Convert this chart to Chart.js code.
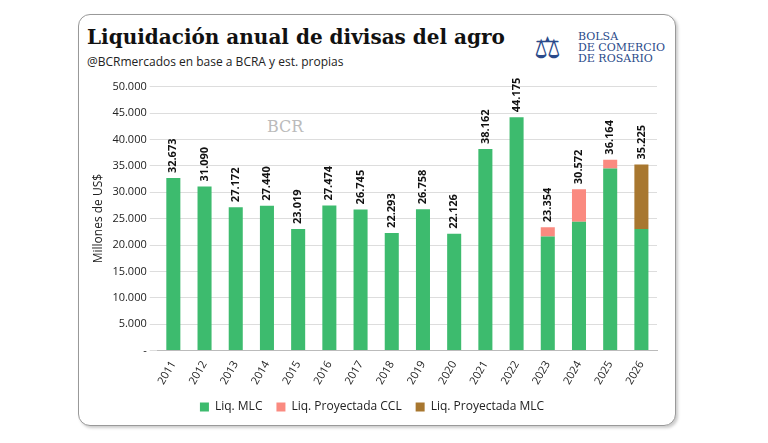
<!DOCTYPE html>
<html><head><meta charset="utf-8">
<script src="https://cdn.jsdelivr.net/npm/chart.js@4"></script>
<style>
body{margin:0;background:#fff;font-family:"Open Sans",sans-serif}
#card{position:absolute;left:78px;top:14px;width:596px;height:410px;border:1px solid #999;border-radius:12px;background:#fff;box-shadow:2px 2px 3px #ccc}
#title{position:absolute;left:8px;top:10px;font:bold 20px "DejaVu Serif",serif;color:#111}
#sub{position:absolute;left:8px;top:38px;font-size:12px;color:#222}
#logo{position:absolute;left:455px;top:14px;width:140px;white-space:nowrap;color:#2a4a8a}
#logo .ic{position:absolute;left:0;top:0;font-size:30px;line-height:36px}
#logo .tx{position:absolute;left:44px;top:2px;font:11px "DejaVu Serif",serif;line-height:11px}
#wm{position:absolute;left:188px;top:102px;font:16px "DejaVu Serif",serif;color:#bbb}
#wrap{position:absolute;left:8px;top:62px;width:584px;height:346px}
</style></head><body>
<div id="card">
<div id="title">Liquidación anual de divisas del agro</div>
<div id="sub">@BCRmercados en base a BCRA y est. propias</div>
<div id="logo"><div class="ic">⚖</div><div class="tx">BOLSA<br>DE COMERCIO<br>DE ROSARIO</div></div>
<div id="wm">BCR</div>
<div id="wrap"><canvas id="c"></canvas></div>
</div>
<script>
var years = ["2011","2012","2013","2014","2015","2016","2017","2018","2019","2020","2021","2022","2023","2024","2025","2026"];
var mlc = [32673,31090,27172,27440,23019,27474,26745,22293,26758,22126,38162,44175,21600,24400,34500,23050];
var projCCL = [0,0,0,0,0,0,0,0,0,0,0,0,1754,6172,1664,0];
var projMLC = [0,0,0,0,0,0,0,0,0,0,0,0,0,0,0,12175];
var totals = ["32.673","31.090","27.172","27.440","23.019","27.474","26.745","22.293","26.758","22.126","38.162","44.175","23.354","30.572","36.164","35.225"];
var yTicks = [0,5000,10000,15000,20000,25000,30000,35000,40000,45000,50000];

function fmt(v) {
  return String(v).replace(/\B(?=(\d{3})+(?!\d))/g, ".");
}

var labelPlugin = {
  id: "tot",
  afterDatasetsDraw: function(chart) {
    var ctx = chart.ctx, y = chart.scales.y;
    ctx.save();
    ctx.font = "bold 11px 'Open Sans'";
    ctx.fillStyle = "#111";
    ctx.textAlign = "left";
    ctx.textBaseline = "middle";
    var meta = chart.getDatasetMeta(0);
    for (var i = 0; i < years.length; i++) {
      var v = mlc[i] + projCCL[i] + projMLC[i];
      var px = meta.data[i].x, py = y.getPixelForValue(v) - 5;
      ctx.save();
      ctx.translate(px, py);
      ctx.rotate(-Math.PI / 2);
      ctx.fillText(totals[i], 0, 0);
      ctx.restore();
    }
    ctx.restore();
  }
};

new Chart(document.getElementById("c"), {
  type: "bar",
  data: {
    labels: years,
    datasets: [
      {label: "Liq. MLC", data: mlc, backgroundColor: "#3dbb6e"},
      {label: "Liq. Proyectada CCL", data: projCCL, backgroundColor: "#fa8a80"},
      {label: "Liq. Proyectada MLC", data: projMLC, backgroundColor: "#a8772f"}
    ]
  },
  options: {
    responsive: true,
    maintainAspectRatio: false,
    animation: false,
    layout: {padding: {top: 4, right: 14}},
    datasets: {bar: {categoryPercentage: 0.9, barPercentage: 0.5}},
    plugins: {
      legend: {position: "bottom", labels: {boxWidth: 9, boxHeight: 9, color: "#222", font: {size: 12, family: "Open Sans"}, padding: 14}},
      tooltip: {enabled: false}
    },
    scales: {
      x: {stacked: true, grid: {display: false}, border: {color: "#bbb"},
          ticks: {maxRotation: 60, minRotation: 60, padding: 0, color: "#222", font: {size: 11, family: "Open Sans"}}},
      y: {stacked: true, min: 0, max: 50000,
          afterBuildTicks: function(a) { a.ticks = yTicks.map(function(v){ return {value: v}; }); },
          grid: {color: "#ddd"}, border: {display: false},
          title: {display: true, text: "Millones de US$", color: "#222", font: {size: 12, family: "Open Sans"}},
          ticks: {color: "#222", font: {size: 11, family: "Open Sans"},
            callback: function(v) { return v === 0 ? "-" : fmt(v); }}}
    }
  },
  plugins: [labelPlugin]
});
</script>
</body></html>
